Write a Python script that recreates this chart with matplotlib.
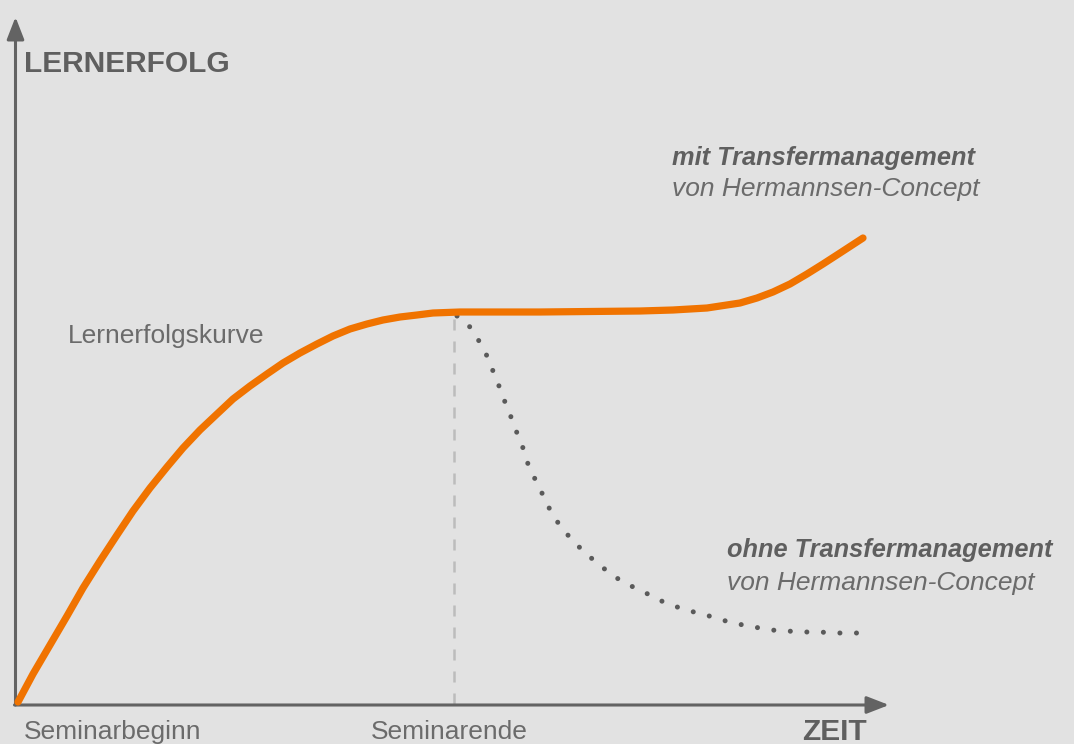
import matplotlib.pyplot as plt

plt.rcParams['font.family'] = ['Liberation Sans', 'DejaVu Sans']

# learning success curve (orange), time vs. success
curve_t = [2, 17, 34, 51, 67, 84, 101, 117, 134, 151, 167, 184, 201, 217, 234,
           251, 267, 284, 301, 317, 334, 351, 367, 384, 401, 417, 444,
           524, 624, 657, 691, 724, 741, 757, 774, 791, 807, 824, 847]
curve_s = [2, 30, 59, 88, 116, 143, 169, 193, 216, 237, 256, 274, 290, 305, 318,
           330, 341, 351, 360, 368, 375, 380, 384, 387, 389, 391, 392,
           392, 393, 394, 396, 401, 406, 412, 420, 430, 440, 451, 466]

# decay without transfer management (dotted)
decay_t = [441, 454, 463, 471, 477, 483, 489, 495, 501, 507, 512, 519, 525, 532,
           540, 550, 561, 574, 586, 599, 613, 628, 643, 658, 674, 690, 706, 722,
           738, 755, 771, 787, 803, 820, 837, 848]
decay_s = [388, 377, 363, 348, 333, 318, 302, 287, 271, 256, 240, 225, 213, 198,
           184, 171, 159, 147, 137, 127, 119, 112, 104, 98, 93, 89, 84, 80,
           77, 74, 73, 72, 72, 71, 71, 71]

seminar_end = 438
seminar_end_level = 392

bg = '#e2e2e2'
orange = '#f07300'
dark = '#5f5f5f'
light = '#6b6b6b'

fig = plt.figure(figsize=(10.74, 7.44), dpi=100, facecolor=bg)
ax = fig.add_axes([16 / 1074, 40 / 744, 1058 / 1074, 704 / 744])
ax.set_facecolor(bg)
ax.set_xlim(0, 1058)
ax.set_ylim(0, 704)
ax.axis('off')

# axes with arrows
arrow = dict(arrowstyle='-|>,head_length=0.9,head_width=0.35', color='#636363',
             lw=2.2, mutation_scale=15, shrinkA=0, shrinkB=0)
ax.annotate('', xy=(-0.5, 687), xytext=(-0.5, -1), arrowprops=arrow,
            annotation_clip=False)
ax.annotate('', xy=(873, -1), xytext=(-1.5, -1), arrowprops=arrow,
            annotation_clip=False)

# seminar end marker
ax.plot([seminar_end, seminar_end], [0, seminar_end_level], color='#bcbcbc',
        lw=1.8, dashes=(4.4, 4.4), zorder=1)

ax.plot(decay_t, decay_s, color='#5a5a5a', lw=3.6, linestyle=(0, (0.01, 3.3)),
        dash_capstyle='round', zorder=2)
ax.plot(curve_t, curve_s, color=orange, lw=5.2, solid_capstyle='round',
        solid_joinstyle='round', zorder=3, clip_on=False)

ax.text(8, 632, 'LERNERFOLG', fontsize=21.5, fontweight='bold', color=dark,
        va='baseline')
ax.text(786, -36, 'ZEIT', fontsize=21.5, fontweight='bold', color=dark,
        va='baseline', clip_on=False)
ax.text(8, -35, 'Seminarbeginn', fontsize=19, color=light, va='baseline')
ax.text(355, -35, 'Seminarende', fontsize=19, color=light, va='baseline')
ax.text(52, 361, 'Lernerfolgskurve', fontsize=19, color=light, va='baseline')

ax.text(656, 539, 'mit Transfermanagement', fontsize=18.3, fontweight='bold',
        style='italic', color=dark, va='baseline')
ax.text(656, 508, 'von Hermannsen-Concept', fontsize=19, style='italic',
        color=light, va='baseline')
ax.text(711, 147, 'ohne Transfermanagement', fontsize=18.3, fontweight='bold',
        style='italic', color=dark, va='baseline')
ax.text(711, 114, 'von Hermannsen-Concept', fontsize=19, style='italic',
        color=light, va='baseline')

fig.savefig('out.png', dpi=100, facecolor=bg)
